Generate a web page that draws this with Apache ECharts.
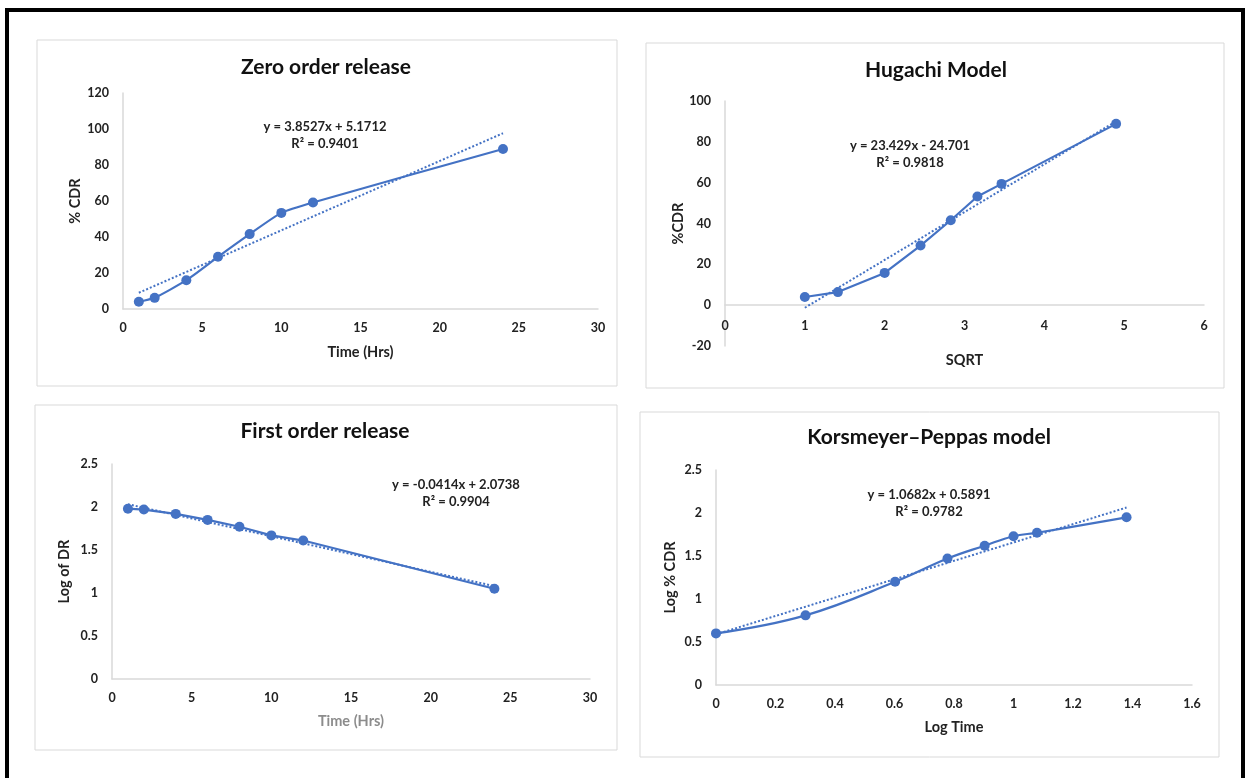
<!DOCTYPE html>
<html><head><meta charset="utf-8">
<script src="https://cdn.jsdelivr.net/npm/echarts@6/dist/echarts.min.js"></script>
<style>html,body{margin:0;padding:0;background:#fff}#c{width:1247px;height:778px}</style>
</head><body><div id="c"></div>
<script>
// ---- data ----
const timeHrs = [1, 2, 4, 6, 8, 10, 12, 24];
const cdrZero = [4.0, 6.2, 16.0, 29.0, 41.6, 53.4, 59.2, 88.9];
const sqrtTime = [1, 1.414, 2, 2.449, 2.828, 3.162, 3.464, 4.899];
const cdrHiguchi = [4.0, 6.4, 15.8, 29.2, 41.6, 53.2, 59.4, 88.8];
const logDR = [1.98, 1.97, 1.92, 1.85, 1.77, 1.67, 1.61, 1.05];
const logTime = [0, 0.301, 0.602, 0.778, 0.903, 1.0, 1.079, 1.380];
const logCDR = [0.60, 0.81, 1.20, 1.47, 1.62, 1.73, 1.77, 1.95];

const titles = ['Zero order release', 'Hugachi Model', 'First order release', 'Korsmeyer\u2013Peppas model'];
const xNames = ['Time (Hrs)', 'SQRT', 'Time (Hrs)', 'Log Time'];
const yNames = ['% CDR', '%CDR', 'Log of DR', 'Log % CDR'];
const equations = [
  ['y = 3.8527x + 5.1712', 'R\u00b2 = 0.9401'],
  ['y = 23.429x - 24.701', 'R\u00b2 = 0.9818'],
  ['y = -0.0414x + 2.0738', 'R\u00b2 = 0.9904'],
  ['y = 1.0682x + 0.5891', 'R\u00b2 = 0.9782']
];
// trendline coefficients [slope, intercept] as printed on the chart
const trendCoef = [[3.8527, 5.1712], [23.429, -24.701], [-0.0414, 2.0738], [1.0682, 0.5891]];

const blue = '#4472C4';
const font = 'Lato, "Open Sans", sans-serif';

function pairs(xs, ys) { return xs.map((x, i) => [x, ys[i]]); }
function trend(k, xs) {
  const a = trendCoef[k][0], b = trendCoef[k][1];
  const x0 = xs[0], x1 = xs[xs.length - 1];
  return [[x0, a * x0 + b], [x1, a * x1 + b]];
}

const grids = [
  {left: 123, top: 93, width: 475, height: 216},
  {left: 725, top: 101, width: 479, height: 245},
  {left: 112, top: 464, width: 478, height: 215},
  {left: 716, top: 470, width: 476, height: 215}
];
const xRanges = [[0, 30, 5], [0, 6, 1], [0, 30, 5], [0, 1.6, 0.2]];
const yRanges = [[0, 120, 20], [-20, 100, 20], [0, 2.5, 0.5], [0, 2.5, 0.5]];
const panels = [[37, 40, 580, 346], [646, 43, 578, 345], [35, 405, 582, 345], [640, 412, 579, 345]];
const titlePos = [[321, 52], [931, 55], [320, 416], [924, 422]];
const eqPos = [[325, 118], [910, 137], [456, 476], [929, 486]];
const xLabelMargin = [12, -27, 12, 12];
const xNameGap = [36, 7, 35, 35];
const yNameGap = [40, 38, 40, 38];

const axisLine = {lineStyle: {color: '#d9d9d9', width: 1.5}};
const tickLabel = {color: '#222', fontWeight: 'bold', fontSize: 12.5, fontFamily: font};

const xAxis = grids.map((g, i) => ({
  type: 'value', gridIndex: i, min: xRanges[i][0], max: xRanges[i][1], interval: xRanges[i][2],
  axisLine: Object.assign({onZero: i === 1}, axisLine), axisTick: {show: false}, splitLine: {show: false},
  axisLabel: Object.assign({margin: xLabelMargin[i]}, tickLabel),
  name: xNames[i], nameLocation: 'middle', nameGap: xNameGap[i],
  nameTextStyle: {color: i === 2 ? '#8c8c8c' : '#222', fontWeight: 'bold', fontSize: 14.5, fontFamily: font}
}));
const yAxis = grids.map((g, i) => ({
  type: 'value', gridIndex: i, min: yRanges[i][0], max: yRanges[i][1], interval: yRanges[i][2],
  axisLine: Object.assign({show: true, onZero: false}, axisLine), axisTick: {show: false}, splitLine: {show: false},
  axisLabel: Object.assign({margin: 14}, tickLabel),
  name: yNames[i], nameLocation: 'middle', nameGap: yNameGap[i],
  nameTextStyle: {color: '#222', fontWeight: 'bold', fontSize: 14.5, fontFamily: font}
}));

const datasets = [pairs(timeHrs, cdrZero), pairs(sqrtTime, cdrHiguchi), pairs(timeHrs, logDR), pairs(logTime, logCDR)];
const xsets = [timeHrs, sqrtTime, timeHrs, logTime];
const smooths = [0.2, false, false, 0.4];
const series = [];
datasets.forEach((d, i) => {
  series.push({type: 'line', xAxisIndex: i, yAxisIndex: i, data: trend(i, xsets[i]), symbol: 'none',
    lineStyle: {color: blue, width: 2, type: [2, 2]}, z: 2, silent: true});
  series.push({type: 'line', xAxisIndex: i, yAxisIndex: i, data: d, symbol: 'circle', symbolSize: 10,
    smooth: smooths[i], itemStyle: {color: blue}, lineStyle: {color: blue, width: 2.2}, z: 3});
});

const graphic = [];
graphic.push({type: 'rect', shape: {x: 7, y: 10, width: 1236, height: 800}, style: {fill: '#fff', stroke: '#000', lineWidth: 4}, z: -10});
panels.forEach(p => graphic.push({type: 'rect', shape: {x: p[0], y: p[1], width: p[2], height: p[3]},
  style: {fill: '#fff', stroke: '#d9d9d9', lineWidth: 1}, z: -5}));
equations.forEach((e, i) => {
  graphic.push({type: 'text', x: eqPos[i][0], y: eqPos[i][1], style: {text: e[0] + '\n' + e[1], align: 'center',
    verticalAlign: 'top', fill: '#222', font: 'bold 13px ' + font, lineHeight: 17}, z: 10});
});

const title = titles.map((t, i) => ({text: t, left: titlePos[i][0], top: titlePos[i][1], textAlign: 'center',
  textStyle: {fontSize: 21, fontWeight: 'bold', color: '#111', fontFamily: font}}));

const chart = echarts.init(document.getElementById('c'));
chart.setOption({animation: false, backgroundColor: '#fff', title, grid: grids, xAxis, yAxis, series, graphic});
</script></body></html>
